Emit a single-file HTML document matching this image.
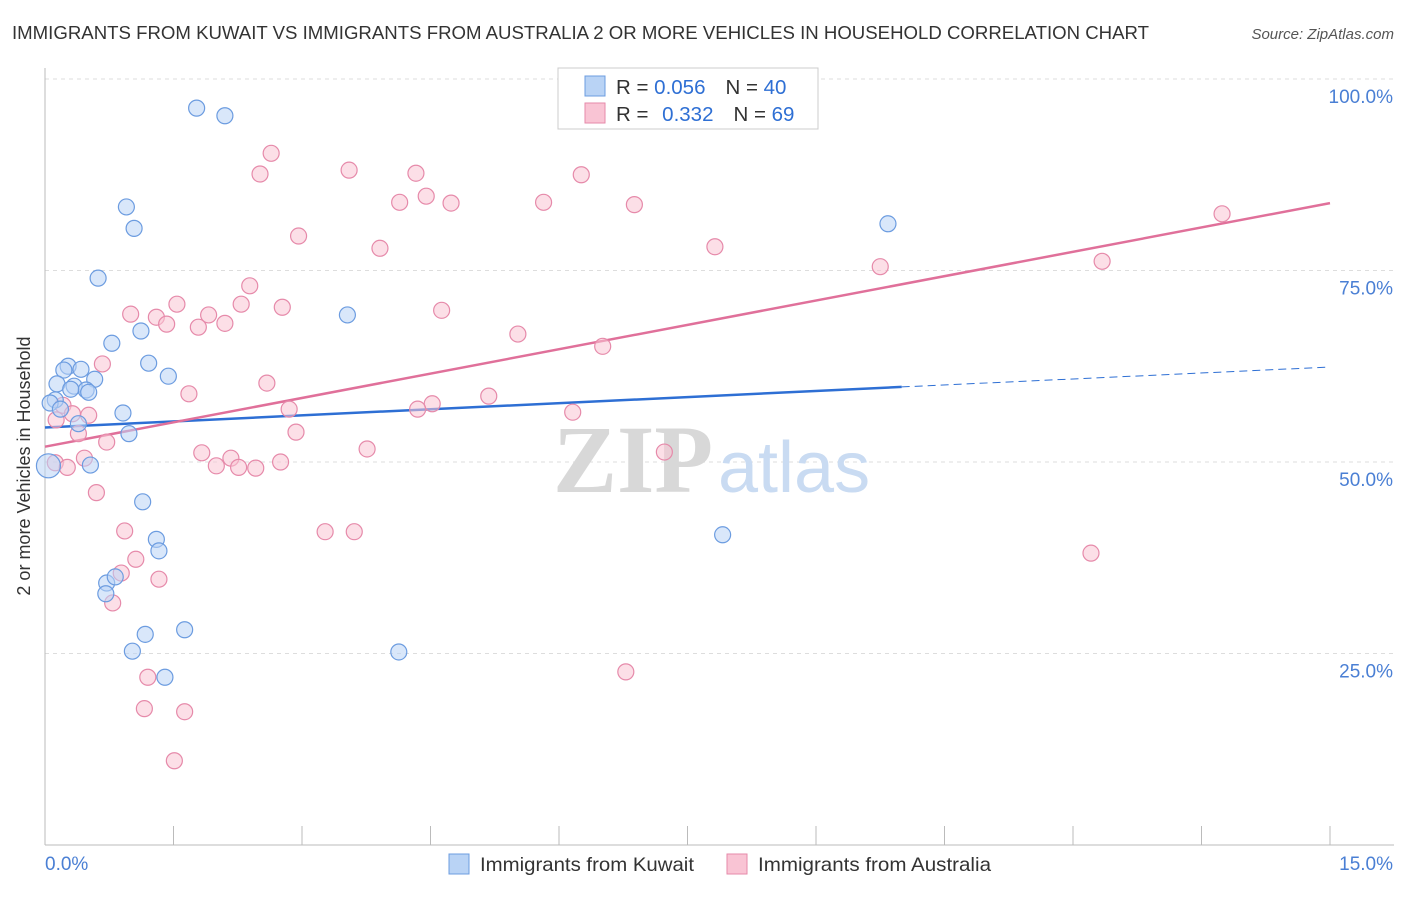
<!DOCTYPE html>
<html><head><meta charset="utf-8">
<style>
body{margin:0;background:#fff;font-family:"Liberation Sans",sans-serif;}
svg text{font-family:"Liberation Sans",sans-serif;}
</style></head>
<body>
<svg id="chart" width="1406" height="892" xmlns="http://www.w3.org/2000/svg">
<text x="12" y="39" font-size="18.5" fill="#333" textLength="1137" lengthAdjust="spacingAndGlyphs">IMMIGRANTS FROM KUWAIT VS IMMIGRANTS FROM AUSTRALIA 2 OR MORE VEHICLES IN HOUSEHOLD CORRELATION CHART</text>
<text x="1394" y="39" font-size="15" fill="#555" font-style="italic" text-anchor="end">Source: ZipAtlas.com</text>
<g id="grid"></g>
<g>
<text x="553" y="492" font-size="96" fill="#d8d8d8" font-weight="bold" style="font-family:'Liberation Serif',serif">ZIP</text>
<text x="718" y="492" font-size="72" fill="#c9dbf2">atlas</text>
</g>
<g id="axes"></g>
<g id="lines"></g>
<g id="points"></g>
<text x="20" y="456" font-size="18" fill="#333" transform="rotate(-90 30 456)" text-anchor="middle">2 or more Vehicles in Household</text>
<g>
<rect x="558" y="68" width="260" height="61" fill="#fff" stroke="#ccc"/>
<rect x="585" y="76" width="20" height="20" fill="#b9d3f5" stroke="#6c9ce0"/>
<rect x="585" y="103" width="20" height="20" fill="#f9c4d4" stroke="#e68aaa"/>
<text x="616" y="94" font-size="20.5" fill="#333">R = <tspan fill="#2e6fd4">0.056</tspan><tspan dx="20">N = </tspan><tspan fill="#2e6fd4">40</tspan></text>
<text x="616" y="121" font-size="20.5" fill="#333">R = <tspan fill="#2e6fd4" dx="8">0.332</tspan><tspan dx="20">N = </tspan><tspan fill="#2e6fd4">69</tspan></text>
</g>
<g>
<rect x="449" y="854" width="20" height="20" fill="#b9d3f5" stroke="#6c9ce0"/>
<text x="480" y="871" font-size="19.5" fill="#333" textLength="214" lengthAdjust="spacingAndGlyphs">Immigrants from Kuwait</text>
<rect x="727" y="854" width="20" height="20" fill="#f9c4d4" stroke="#e68aaa"/>
<text x="758" y="871" font-size="19.5" fill="#333" textLength="233" lengthAdjust="spacingAndGlyphs">Immigrants from Australia</text>
</g>
</svg>
<script>
const yTicks=[25,50,75,100];
const yTickLabels=["25.0%","50.0%","75.0%","100.0%"];
const xTicks=[0,1.5,3,4.5,6,7.5,9,10.5,12,13.5,15];
const kuwaitX=[1.77,2.10,0.95,1.04,9.84,0.62,3.53,1.12,0.78,1.21,0.27,0.42,0.22,1.44,0.58,0.14,0.34,0.48,0.51,0.30,0.12,0.06,0.18,0.91,0.39,0.98,0.53,0.04,1.14,1.30,1.33,7.91,0.72,0.82,0.71,1.17,1.63,1.02,4.13,1.40];
const kuwaitY=[96.2,95.2,83.3,80.5,81.1,74.0,69.2,67.1,65.5,62.9,62.5,62.1,62.0,61.2,60.8,60.2,59.9,59.4,59.1,59.5,58.1,57.7,56.9,56.4,55.0,53.7,49.6,49.5,44.8,39.9,38.4,40.5,34.2,35.0,32.8,27.5,28.1,25.3,25.2,21.9];
const ausX=[2.64,2.51,3.55,4.33,6.26,4.45,4.14,4.74,5.82,6.88,13.74,2.96,3.91,7.82,12.34,9.75,2.39,1.54,2.29,2.77,1.00,1.30,1.91,4.63,1.42,1.79,2.10,5.52,6.51,0.67,2.59,1.68,5.18,4.52,4.35,2.85,6.16,0.21,0.32,0.51,0.13,0.39,2.93,0.72,3.76,1.83,7.23,0.46,2.17,0.12,0.26,2.00,2.26,2.46,2.75,0.60,0.93,3.27,3.61,12.21,1.06,0.89,1.33,0.79,1.20,6.78,1.16,1.63,1.51];
const ausY=[90.3,87.6,88.1,87.7,87.5,84.7,83.9,83.8,83.9,83.6,82.4,79.5,77.9,78.1,76.2,75.5,73.0,70.6,70.6,70.2,69.3,68.9,69.2,69.8,68.0,67.6,68.1,66.7,65.1,62.8,60.3,58.9,58.6,57.6,56.9,56.9,56.5,57.4,56.3,56.1,55.5,53.7,53.9,52.6,51.7,51.2,51.3,50.5,50.5,49.9,49.3,49.5,49.3,49.2,50.0,46.0,41.0,40.9,40.9,38.1,37.3,35.5,34.7,31.6,21.9,22.6,17.8,17.4,11.0];
const kuwaitTrend=[54.5,59.8,62.4];
const ausTrend=[52.0,83.8];

const NS="http://www.w3.org/2000/svg";
const X=v=>45+v*(1285/15);
const Y=v=>845-v*7.66;
function mk(tag,parent,attrs){const e=document.createElementNS(NS,tag);for(const k in attrs)e.setAttribute(k,attrs[k]);parent.appendChild(e);return e;}
const grid=document.getElementById('grid'),axes=document.getElementById('axes'),lines=document.getElementById('lines'),pts=document.getElementById('points');
yTicks.forEach((t,i)=>{
 const l=mk('line',grid,{x1:45,x2:1394,y1:Y(t),y2:Y(t),stroke:'#ddd','stroke-dasharray':'4,4'});
 
 
 const tx=mk('text',axes,{x:1393,y:Y(t)+24,'font-size':19,fill:'#4a7fd4','text-anchor':'end'});
 tx.textContent=yTickLabels[i];
 
 
});
const al=mk('line',axes,{x1:45,x2:45,y1:68,y2:845,stroke:'#bbb'});


const bl=mk('line',axes,{x1:45,x2:1394,y1:845,y2:845,stroke:'#bbb'});


xTicks.forEach(t=>{
 const l=mk('line',axes,{x1:X(t),x2:X(t),y1:826,y2:845,stroke:'#bbb'});
 
 
});
const x0=mk('text',axes,{x:45,y:870,'font-size':19,fill:'#4a7fd4'});x0.textContent='0.0%';


const x1=mk('text',axes,{x:1393,y:870,'font-size':19,fill:'#4a7fd4','text-anchor':'end'});x1.textContent='15.0%';



function dot(x,y,fill,stroke,name,r){
 const c=mk('circle',pts,{cx:X(x),cy:Y(y),r:r,fill:fill,'fill-opacity':0.55,stroke:stroke,'stroke-width':1.2});
 
 
}
ausX.forEach((x,i)=>dot(x,ausY[i],'#f9c4d4','#e68aaa','point-australia',8));
kuwaitX.forEach((x,i)=>dot(x,kuwaitY[i],'#b9d3f5','#6c9ce0','point-kuwait',i==27?12:8));

const k1=mk('line',lines,{x1:X(0),y1:Y(kuwaitTrend[0]),x2:X(10),y2:Y(kuwaitTrend[1]),stroke:'#2e6fd4','stroke-width':2.5});


const k2=mk('line',lines,{x1:X(10),y1:Y(kuwaitTrend[1]),x2:X(15),y2:Y(kuwaitTrend[2]),stroke:'#2e6fd4','stroke-width':1,'stroke-dasharray':'8,5'});


const a1=mk('line',lines,{x1:X(0),y1:Y(ausTrend[0]),x2:X(15),y2:Y(ausTrend[1]),stroke:'#e0709a','stroke-width':2.5});


</script>
</body></html>
